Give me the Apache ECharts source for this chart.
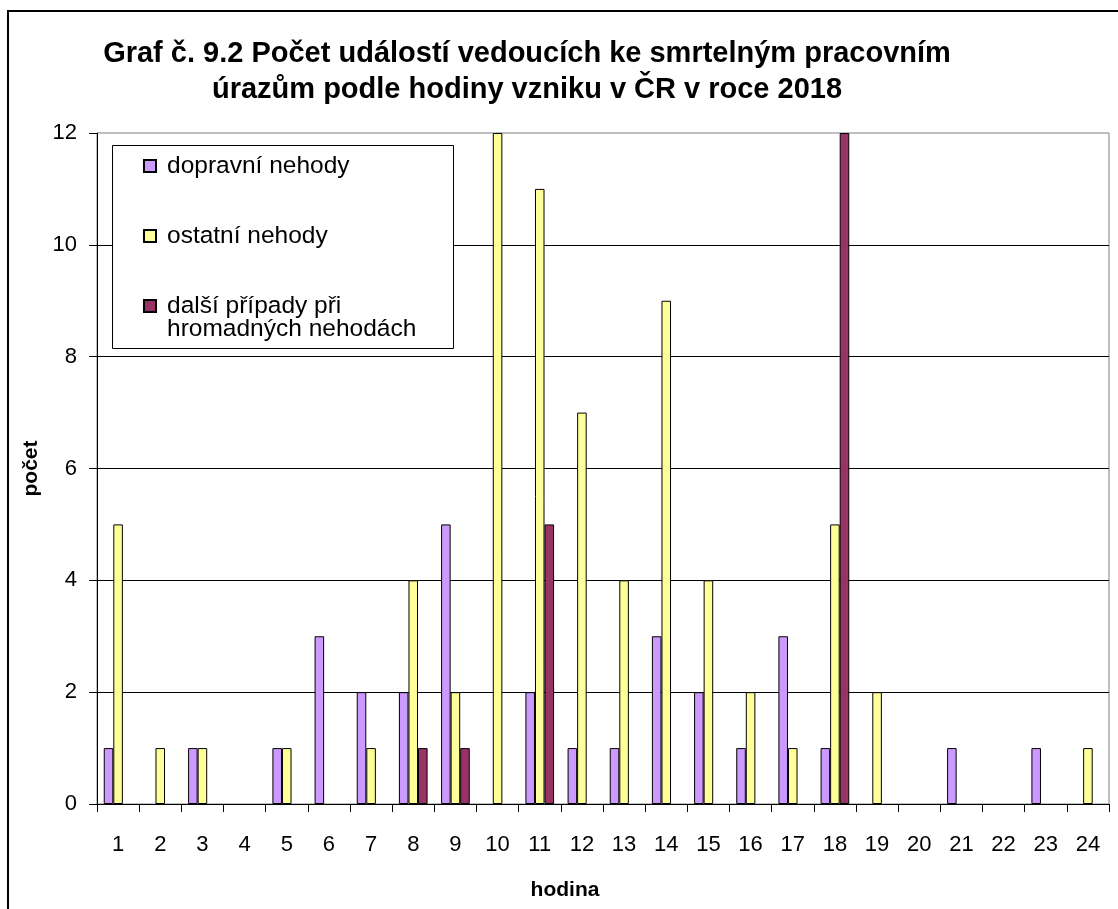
<!DOCTYPE html>
<html>
<head>
<meta charset="utf-8">
<script src="https://cdn.jsdelivr.net/npm/echarts@6/dist/echarts.min.js"></script>
<style>
  html, body { margin: 0; padding: 0; background: #fff; }
  #chart { width: 1118px; height: 909px; }
</style>
</head>
<body>
<div id="chart"></div>
<script>
// Hodiny vzniku (kategorie osy x)
const hours = ['1','2','3','4','5','6','7','8','9','10','11','12','13','14','15','16','17','18','19','20','21','22','23','24'];

// Počty událostí podle hodiny
const dopravni = [1,0,1,0,1,3,2,2,5,0,2,1,1,3,2,1,3,1,0,0,1,0,1,0];
const ostatni  = [5,1,1,0,1,0,1,4,2,12,11,7,4,9,4,2,1,5,2,0,0,0,0,1];
const dalsi    = [0,0,0,0,0,0,0,1,1,0,5,0,0,0,0,0,0,12,0,0,0,0,0,0];

const seriesNames = ['dopravní nehody', 'ostatní nehody', 'další případy při\nhromadných nehodách'];
const seriesColors = ['#CC99FF', '#FFFF99', '#993366'];

const yTicks = { min: 0, max: 12, interval: 2 };

const FONT = 'Liberation Sans, Arial, sans-serif';

const chart = echarts.init(document.getElementById('chart'), null, { renderer: 'canvas' });

const values = [dopravni, ostatni, dalsi];

// nulové hodnoty se nevykreslují (žádný plochý sloupec s okrajem)
const toBarData = arr => arr.map(v => (v === 0 ? '-' : v));

chart.setOption({
  backgroundColor: '#fff',
  animation: false,
  title: {
    text: 'Graf č. 9.2 Počet událostí vedoucích ke smrtelným pracovním\núrazům podle hodiny vzniku v ČR v roce 2018',
    left: 527,
    textAlign: 'center',
    top: 36,
    padding: 0,
    textStyle: {
      fontFamily: FONT,
      fontSize: 29,
      fontWeight: 'bold',
      color: '#000',
      lineHeight: 36
    }
  },
  graphic: [
    {
      // rámeček kolem celého grafu
      type: 'rect',
      z: 100,
      silent: true,
      shape: { x: 8, y: 11, width: 1140, height: 940 },
      style: { fill: null, stroke: '#000', lineWidth: 2 }
    },
    {
      // rámeček legendy
      type: 'rect',
      z: 10,
      silent: true,
      shape: { x: 112.5, y: 145.5, width: 341, height: 203 },
      style: { fill: '#fff', stroke: '#000', lineWidth: 1 }
    }
  ],
  legend: [
    {
      data: [seriesNames[0], seriesNames[1]],
      orient: 'vertical',
      left: 143,
      top: 153.5,
      padding: 0,
      itemGap: 45,
      itemWidth: 12,
      itemHeight: 12,
      icon: 'rect',
      z: 20,
      textStyle: {
        fontFamily: FONT,
        fontSize: 24.5,
        color: '#000',
        lineHeight: 23,
        padding: [0, 0, 0, 6]
      }
    },
    {
      data: [seriesNames[2]],
      orient: 'vertical',
      left: 143,
      top: 270.5,
      padding: 0,
      itemWidth: 12,
      itemHeight: 12,
      icon: 'rect',
      z: 20,
      // prázdný první řádek: ikona pak stojí u prvního řádku textu
      formatter: name => '\n' + name,
      textStyle: {
        fontFamily: FONT,
        fontSize: 24.5,
        color: '#000',
        lineHeight: 23,
        padding: [0, 0, 0, 6]
      }
    }
  ],
  grid: {
    left: 97,
    top: 133,
    right: 9,
    bottom: 105,
    show: true,
    borderColor: '#808080',
    borderWidth: 1,
    backgroundColor: '#fff'
  },
  xAxis: {
    type: 'category',
    data: hours,
    name: 'hodina',
    nameLocation: 'middle',
    nameGap: 76,
    nameTextStyle: {
      fontFamily: FONT,
      fontSize: 21,
      fontWeight: 'bold',
      color: '#000',
      padding: [0, 76, 0, 0]
    },
    axisLine: { show: true, lineStyle: { color: '#000', width: 1 } },
    axisTick: { show: true, length: 8, lineStyle: { color: '#000' } },
    axisLabel: { fontFamily: FONT, fontSize: 22, color: '#000', margin: 30 },
    splitLine: { show: false }
  },
  yAxis: {
    type: 'value',
    min: yTicks.min,
    max: yTicks.max,
    interval: yTicks.interval,
    name: 'počet',
    nameLocation: 'middle',
    nameRotate: 90,
    nameGap: 55,
    nameTextStyle: { fontFamily: FONT, fontSize: 21, fontWeight: 'bold', color: '#000' },
    axisLine: { show: true, lineStyle: { color: '#000', width: 1 } },
    axisTick: { show: true, length: 8, lineStyle: { color: '#000' } },
    axisLabel: { fontFamily: FONT, fontSize: 22, color: '#000', margin: 20 },
    splitLine: { show: true, showMaxLine: false, lineStyle: { color: '#000', width: 1 } }
  },
  series: seriesNames.map((name, i) => ({
    name: name,
    type: 'bar',
    data: toBarData(values[i]),
    barGap: '0%',
    barCategoryGap: '32%',
    itemStyle: { color: seriesColors[i], borderColor: '#000', borderWidth: 1 },
    emphasis: { disabled: true }
  }))
});
</script>
</body>
</html>
